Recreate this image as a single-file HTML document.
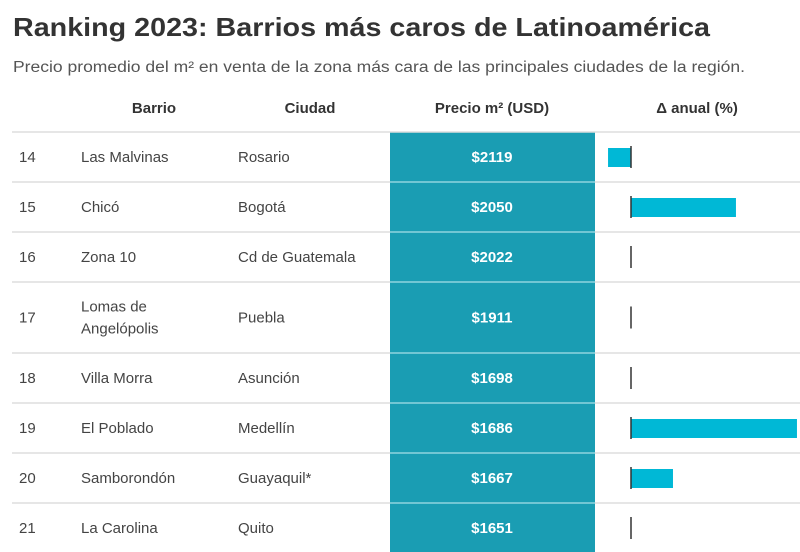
<!DOCTYPE html>
<html><head><meta charset="utf-8"><style>
body{margin:0;background:#fff;width:800px;height:552px;overflow:hidden}
svg{display:block;font-family:"Liberation Sans",sans-serif}
</style></head><body>
<svg id="chart" width="800" height="552" viewBox="0 0 800 552">
<text x="13" y="36" font-size="26" font-weight="bold" fill="#333" textLength="697" lengthAdjust="spacingAndGlyphs">Ranking 2023: Barrios más caros de Latinoamérica</text>
<text x="13" y="72" font-size="15.5" fill="#555" textLength="732" lengthAdjust="spacingAndGlyphs">Precio promedio del m² en venta de la zona más cara de las principales ciudades de la región.</text>
<rect x="390" y="132" width="205" height="420" fill="#1a9db3"/>
<g font-size="15" font-weight="bold" fill="#333" text-anchor="middle">
<text x="154" y="113">Barrio</text>
<text x="310" y="113">Ciudad</text>
<text x="492" y="113">Precio m² (USD)</text>
<text x="697" y="113">Δ anual (%)</text>
</g>
<line x1="12" y1="132" x2="800" y2="132" stroke="#ddd" stroke-width="1.5"/>
<g id="rows"></g>
</svg>
<script>
const ranks=[14,15,16,17,18,19,20,21];
const barrios=[["Las Malvinas"],["Chicó"],["Zona 10"],["Lomas de","Angelópolis"],["Villa Morra"],["El Poblado"],["Samborondón"],["La Carolina"]];
const ciudades=["Rosario","Bogotá","Cd de Guatemala","Puebla","Asunción","Medellín","Guayaquil*","Quito"];
const precios=[2119,2050,2022,1911,1698,1686,1667,1651];
const deltas=[-3.5,16,0,0,0,25.3,6.4,0];
const rowHeights=[50,50,50,71,50,50,50,50];
const NS="http://www.w3.org/2000/svg";
const g=document.getElementById('rows');
const zeroX=631, pxPerPct=6.56;
const xScale=v=>zeroX+v*pxPerPct;
function mk(tag,attrs){const e=document.createElementNS(NS,tag);for(const k in attrs)e.setAttribute(k,attrs[k]);return e;}
let y=132;
ranks.forEach((r,i)=>{
  const h=rowHeights[i], cy=y+h/2;
  const t1=mk('text',{x:19,y:cy+5,'font-size':15,fill:'#444'});t1.textContent=r;
  
  
  g.appendChild(t1);
  const lines=barrios[i];
  lines.forEach((l,j)=>{
    const t=mk('text',{x:81,y:cy+5+(j-(lines.length-1)/2)*22,'font-size':15,fill:'#444'});t.textContent=l;
    
    
    g.appendChild(t);
  });
  const t3=mk('text',{x:238,y:cy+5,'font-size':15,fill:'#444'});t3.textContent=ciudades[i];
  
  
  g.appendChild(t3);
  const t4=mk('text',{x:492,y:cy+5,'font-size':15,'font-weight':'bold',fill:'#fff','text-anchor':'middle'});t4.textContent='$'+precios[i];
  
  
  g.appendChild(t4);
  const v=deltas[i];
  if(v!==0){
    const x0=Math.min(xScale(0),xScale(v)), w=Math.abs(xScale(v)-xScale(0));
    const b=mk('rect',{x:x0,y:cy-9,width:w,height:19,fill:'#00b8d6'});
    
    
    g.appendChild(b);
  }
  const z=mk('line',{x1:xScale(0),x2:xScale(0),y1:cy-11,y2:cy+11,stroke:'#333','stroke-width':1.5});
  
  
  g.appendChild(z);
  y+=h;
  if(i<ranks.length-1){
    const l1=mk('line',{x1:12,x2:390,y1:y,y2:y,stroke:'#ddd','stroke-width':1.5});
    
    
    g.appendChild(l1);
    const l2=mk('line',{x1:390,x2:595,y1:y,y2:y,stroke:'#8fd3df','stroke-width':1.5});
    
    
    g.appendChild(l2);
    const l3=mk('line',{x1:595,x2:800,y1:y,y2:y,stroke:'#ddd','stroke-width':1.5});
    
    
    g.appendChild(l3);
  }
});
</script>
</body></html>
